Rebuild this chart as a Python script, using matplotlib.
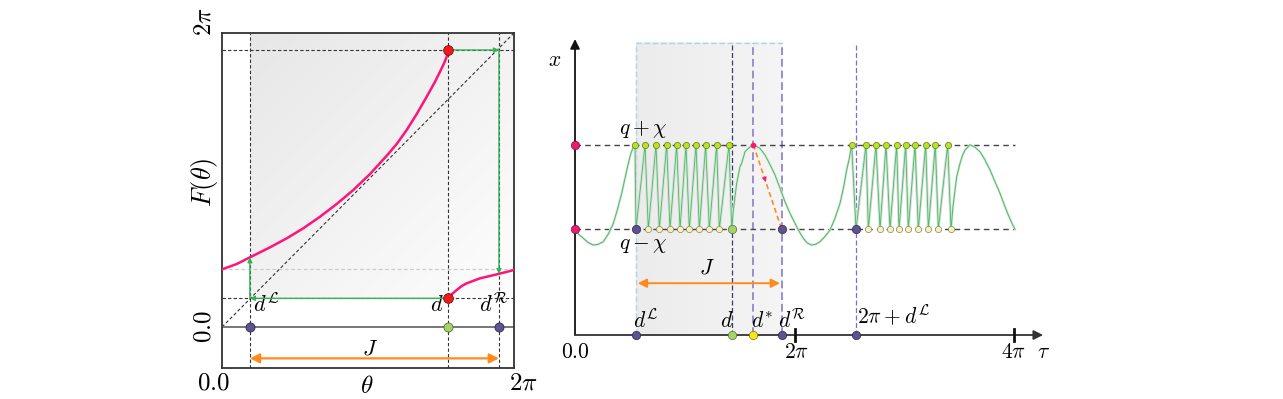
import numpy as np
import matplotlib.pyplot as plt

plt.rcParams['mathtext.fontset'] = 'cm'
plt.rcParams['font.family'] = 'DejaVu Serif'

TWO_PI = 2 * np.pi

# ---- left panel: the map F(theta) ----
dL, d, dR = 0.60, 4.87, 5.96
F_top, F_bot, F_edge = 5.92, 0.613, 1.24
F_at_dL, F_at_dR = 1.489, 1.133

left_th = [0.0, 0.316, 0.602, 1.033, 1.392, 1.749, 2.109, 2.468, 2.826, 3.185,
           3.544, 3.759, 3.974, 4.190, 4.405, 4.583, 4.691, 4.78, 4.835, 4.87]
left_F = [1.233, 1.346, 1.489, 1.703, 1.895, 2.109, 2.357, 2.629, 2.928, 3.270,
          3.66, 3.911, 4.210, 4.552, 4.922, 5.24, 5.456, 5.64, 5.776, 5.92]
right_th = [4.87, 4.943, 5.05, 5.158, 5.266, 5.551, 5.945, TWO_PI]
right_F = [0.613, 0.699, 0.79, 0.876, 0.934, 1.04, 1.133, 1.218]

# ---- right panel: the trajectory x(tau) ----
q_lo, q_hi = 1.0, 1.8
r_dL, r_d, r_dstar, r_dR = 1.746, 4.486, 5.105, 5.917
x_top_box = 2.765

tops1 = [1.718, 2.004, 2.319, 2.625, 2.911, 3.177, 3.464, 3.741, 4.056, 4.408]
bots1 = [1.746, 2.098, 2.413, 2.719, 3.006, 3.272, 3.558, 3.844, 4.131, 4.486]
tops2 = [7.920, 8.330, 8.616, 8.903, 9.208, 9.466, 9.733, 10.039, 10.314, 10.669]
bots2 = [8.044, 8.396, 8.731, 9.017, 9.275, 9.541, 9.827, 10.114, 10.400, 10.763]

curveA_t = [0.0, 0.095, 0.239, 0.381, 0.525, 0.667, 0.811, 0.953, 1.097, 1.211,
            1.336, 1.431, 1.527, 1.594, 1.670, 1.718]
curveA_x = [1.0, 0.955, 0.915, 0.873, 0.851, 0.858, 0.883, 0.955, 1.056, 1.183,
            1.340, 1.482, 1.624, 1.712, 1.780, 1.8]
curveB_t = [4.486, 4.533, 4.58, 4.628, 4.723, 4.771, 4.866, 4.962, 5.105, 5.296,
            5.439, 5.582, 5.725, 5.868, 6.011, 6.154, 6.297, 6.393, 6.535, 6.65,
            6.775, 6.89, 7.013, 7.15, 7.299, 7.442, 7.586, 7.69, 7.777, 7.853, 7.92]
curveB_x = [1.0, 1.183, 1.309, 1.435, 1.592, 1.624, 1.734, 1.766, 1.8, 1.766,
            1.703, 1.612, 1.514, 1.39, 1.261, 1.151, 1.057, 0.993, 0.915, 0.87,
            0.851, 0.858, 0.883, 0.93, 0.993, 1.104, 1.246, 1.40, 1.561, 1.672, 1.8]
curveC_t = [10.763, 10.82, 10.878, 10.926, 11.021, 11.097, 11.164, 11.307, 11.45,
            11.593, 11.737, 11.88, 12.023, 12.166, 12.309, 12.403, 12.5, 12.595]
curveC_x = [1.0, 1.214, 1.372, 1.498, 1.624, 1.703, 1.75, 1.8, 1.776,
            1.734, 1.656, 1.561, 1.45, 1.340, 1.214, 1.135, 1.062, 1.0]

pink = '#ff1477'
red = '#f01a1a'
green = '#2fb457'
tgreen = '#3cc35a'
orange = '#ff8a1e'
purple = '#5e5290'
lgreen = '#a5d36a'
ygreen = '#b9e22a'
pale = '#f7f1c2'
yellow = '#f7e812'
lav = '#9a8fcf'

fig = plt.figure(figsize=(12.83, 3.99), dpi=100)
W, H = 1283, 399

# ================= left panel =================
ax = fig.add_axes([222 / W, (H - 368) / H, 292 / W, 335 / H])
ax.set_xlim(0, TWO_PI)
ax.set_ylim(-0.876, TWO_PI)
ax.set_xticks([])
ax.set_yticks([])
for s in ax.spines.values():
    s.set_color('#333333')
    s.set_linewidth(1.3)

gx, gy = np.meshgrid(np.linspace(0, 1, 200), np.linspace(0, 1, 200))
shade = 0.905 + 0.09 * (gx + gy) / 2
ax.imshow(np.dstack([shade, shade, shade]), extent=[dL, TWO_PI, F_bot, TWO_PI],
          origin='upper', aspect='auto', zorder=0)

dash = dict(color='#333333', lw=0.8, dashes=(3, 2))
for xv in [dL, d, dR]:
    ax.axvline(xv, **dash, zorder=1)
for yv in [F_top, F_bot]:
    ax.axhline(yv, **dash, zorder=1)
ax.axhline(F_edge, color='#cccccc', lw=0.9, dashes=(3, 2), zorder=1)
ax.plot([0, TWO_PI], [0, TWO_PI], **dash, zorder=1)
ax.axhline(0, color='#777777', lw=1.4, zorder=2)

ax.plot(left_th, left_F, color=pink, lw=1.8, zorder=4)
ax.plot(right_th, right_F, color=pink, lw=1.8, zorder=4)

arr = dict(arrowstyle='-|>', color=green, lw=1.0, mutation_scale=7, shrinkA=0, shrinkB=0)
ax.annotate('', xy=(dR, F_top), xytext=(d, F_top), arrowprops=arr, zorder=5)
ax.annotate('', xy=(dR, F_at_dR), xytext=(dR, F_top), arrowprops=arr, zorder=5)
ax.annotate('', xy=(dL, F_bot), xytext=(d, F_bot), arrowprops=arr, zorder=5)
ax.annotate('', xy=(dL, F_at_dL), xytext=(dL, F_bot), arrowprops=arr, zorder=5)

ax.annotate('', xy=(dL, -0.67), xytext=(dR, -0.67),
            arrowprops=dict(arrowstyle='<|-|>', color=orange, lw=1.6,
                            mutation_scale=14, shrinkA=0, shrinkB=0))

ax.plot([d, d], [F_top, F_bot], 'o', ms=7, color=red, mec='#7a1010', mew=0.6, zorder=6)
ax.plot([dL, dR], [0, 0], 'o', ms=6.5, color=purple, mec='#2e2850', mew=0.6, zorder=6)
ax.plot([d], [0], 'o', ms=6.5, color=lgreen, mec='#4f7a2a', mew=0.6, zorder=6)

fs = 16
ax.text(0.96, 0.47, r'$d^{\mathcal{L}}$', fontsize=fs, ha='center', va='center')
ax.text(4.62, 0.47, r'$d$', fontsize=fs, ha='center', va='center')
ax.text(5.84, 0.47, r'$d^{\mathcal{R}}$', fontsize=fs, ha='center', va='center')
ax.text(3.18, -0.45, r'$J$', fontsize=fs, ha='center', va='center')
ax.text(-0.18, -1.2, r'$0.0$', fontsize=18, ha='center', va='center', clip_on=False)
ax.text(6.48, -1.2, r'$2\pi$', fontsize=18, ha='center', va='center', clip_on=False)
ax.text(3.11, -1.28, r'$\theta$', fontsize=18, ha='center', va='center', clip_on=False)
ax.text(-0.38, 0.0, r'$0.0$', fontsize=18, ha='center', va='center', rotation=90, clip_on=False)
ax.text(-0.38, 6.52, r'$2\pi$', fontsize=18, ha='center', va='center', rotation=90, clip_on=False)
ax.text(-0.38, 3.08, r'$F(\theta)$', fontsize=19, ha='center', va='center', rotation=90, clip_on=False)

# ================= right panel =================
px_per_tau = 219.5 / TWO_PI
px_per_x = 105.7
x0px, y0px = 575, 335
L, R, T, B = 540, 1060, 30, 380
bx = fig.add_axes([L / W, (H - B) / H, (R - L) / W, (B - T) / H])
bx.set_xlim((L - x0px) / px_per_tau, (R - x0px) / px_per_tau)
bx.set_ylim((y0px - B) / px_per_x, (y0px - T) / px_per_x)
bx.axis('off')

# shaded interval J
sx = np.tile(np.linspace(0, 1, 100), (10, 1))
sh = 0.925 + 0.035 * sx
bx.imshow(np.dstack([sh, sh, sh]), extent=[r_dL, r_dR, 0, x_top_box],
          aspect='auto', origin='lower', zorder=0)
bx.plot([r_dL, r_dL, r_dR], [0, x_top_box, x_top_box], color='#a9d6ee', lw=1.0,
        dashes=(4, 2), zorder=1)
bx.plot([r_dR, r_dR], [0, x_top_box], color=lav, lw=1.4, dashes=(4, 2), zorder=1)
bx.plot([r_dstar, r_dstar], [0, x_top_box], color=lav, lw=1.4, dashes=(4, 2), zorder=1)
bx.plot([r_d, r_d], [0, x_top_box], color='#3b3a78', lw=0.9, dashes=(4, 2), zorder=1)
bx.plot([bots2[0], bots2[0]], [0, x_top_box], color='#7b6fd0', lw=0.9, dashes=(4, 2), zorder=1)

for yv in [q_lo, q_hi]:
    bx.plot([0, curveC_t[-1]], [yv, yv], color='#444444', lw=1.0, dashes=(4, 3), zorder=1)

# smooth parts of the trajectory
for ct, cx in [(curveA_t, curveA_x), (curveB_t, curveB_x), (curveC_t, curveC_x)]:
    bx.plot(ct, cx, color='#e2e2e2', lw=1.8, zorder=2)
    bx.plot(ct, cx, color=tgreen, lw=0.7, zorder=3)

# fast zigzag parts
for tt, bb in [(tops1, bots1), (tops2, bots2)]:
    zt, zx = [], []
    for a, b in zip(tt, bb):
        zt += [a, b]
        zx += [q_hi, q_lo]
    bx.plot(zt, zx, color='#dcdcdc', lw=2.0, zorder=2)
    bx.plot(zt, zx, color=tgreen, lw=0.6, zorder=3)
    bx.plot(tt, [q_hi] * len(tt), 'o', ms=4.5, color=ygreen, mec='#5f7a10', mew=0.5, zorder=5)
    bx.plot(bb[1:], [q_lo] * (len(bb) - 1), 'o', ms=4.5, color=pale, mec='#8a8460', mew=0.5, zorder=5)

# orange dashed map arrow from the peak
bx.plot([r_dstar, r_dR], [q_hi, q_lo], color=orange, lw=1.2, dashes=(3, 2), zorder=4)
mt, mxv = r_dstar + 0.42 * (r_dR - r_dstar), q_hi - 0.42 * (q_hi - q_lo)
bx.annotate('', xy=(mt + 0.02 * (r_dR - r_dstar), mxv - 0.02 * (q_hi - q_lo)),
            xytext=(mt, mxv),
            arrowprops=dict(arrowstyle='-|>', color=pink, lw=0.1, mutation_scale=9,
                            shrinkA=0, shrinkB=0), zorder=5)

# J arrow
bx.annotate('', xy=(r_dL + 0.05, 0.49), xytext=(r_dR - 0.05, 0.49),
            arrowprops=dict(arrowstyle='<|-|>', color=orange, lw=1.4,
                            mutation_scale=13, shrinkA=0, shrinkB=0))

# axes with arrows
bx.annotate('', xy=(0, 2.80), xytext=(0, 0),
            arrowprops=dict(arrowstyle='-|>', color='#111111', lw=1.3,
                            mutation_scale=14, shrinkA=0, shrinkB=0), zorder=6)
bx.annotate('', xy=(13.4, 0), xytext=(0, 0),
            arrowprops=dict(arrowstyle='-|>', color='#333333', lw=1.3,
                            mutation_scale=14, shrinkA=0, shrinkB=0), zorder=6)
for tk in [TWO_PI, 2 * TWO_PI]:
    bx.plot([tk, tk], [-0.06, 0.06], color='#111111', lw=2.0, zorder=6)

# marked points
bx.plot([0, 0], [q_lo, q_hi], 'o', ms=6, color='#ee1c6e', mec='#7a1040', mew=0.5, zorder=7)
bx.plot([r_dL, r_dR, bots2[0]], [0, 0, 0], 'o', ms=6, color=purple, mec='#2e2850', mew=0.5, zorder=7)
bx.plot([r_d], [0], 'o', ms=6, color=lgreen, mec='#4f7a2a', mew=0.5, zorder=7)
bx.plot([r_dstar], [0], 'o', ms=6, color=yellow, mec='#7a7010', mew=0.5, zorder=7)
bx.plot([r_dL, r_dR, bots2[0]], [q_lo] * 3, 'o', ms=6, color=purple, mec='#2e2850', mew=0.5, zorder=7)
bx.plot([r_d], [q_lo], 'o', ms=6, color=lgreen, mec='#4f7a2a', mew=0.5, zorder=7)
bx.plot([r_dstar], [q_hi], 'o', ms=3, color=pink, mec=pink, zorder=7)

fr = 15.5
bx.text(-0.57, 2.60, r'$x$', fontsize=fr, ha='center', va='center')
bx.text(1.96, 1.95, r'$q+\chi$', fontsize=fr, ha='center', va='center')
bx.text(1.96, 0.86, r'$q-\chi$', fontsize=fr, ha='center', va='center')
bx.text(3.77, 0.64, r'$J$', fontsize=fr, ha='center', va='center')
bx.text(2.02, 0.13, r'$d^{\mathcal{L}}$', fontsize=fr, ha='center', va='center')
bx.text(4.34, 0.13, r'$d$', fontsize=fr, ha='center', va='center')
bx.text(5.36, 0.13, r'$d^{*}$', fontsize=fr, ha='center', va='center')
bx.text(6.22, 0.13, r'$d^{\mathcal{R}}$', fontsize=fr, ha='center', va='center')
bx.text(9.11, 0.17, r'$2\pi+d^{\mathcal{L}}$', fontsize=fr, ha='center', va='center')
bx.text(0.0, -0.16, r'$0.0$', fontsize=fr, ha='center', va='center')
bx.text(6.35, -0.16, r'$2\pi$', fontsize=fr, ha='center', va='center')
bx.text(12.55, -0.16, r'$4\pi$', fontsize=fr, ha='center', va='center')
bx.text(13.4, -0.16, r'$\tau$', fontsize=fr, ha='center', va='center')

fig.savefig('out.png', dpi=100)
